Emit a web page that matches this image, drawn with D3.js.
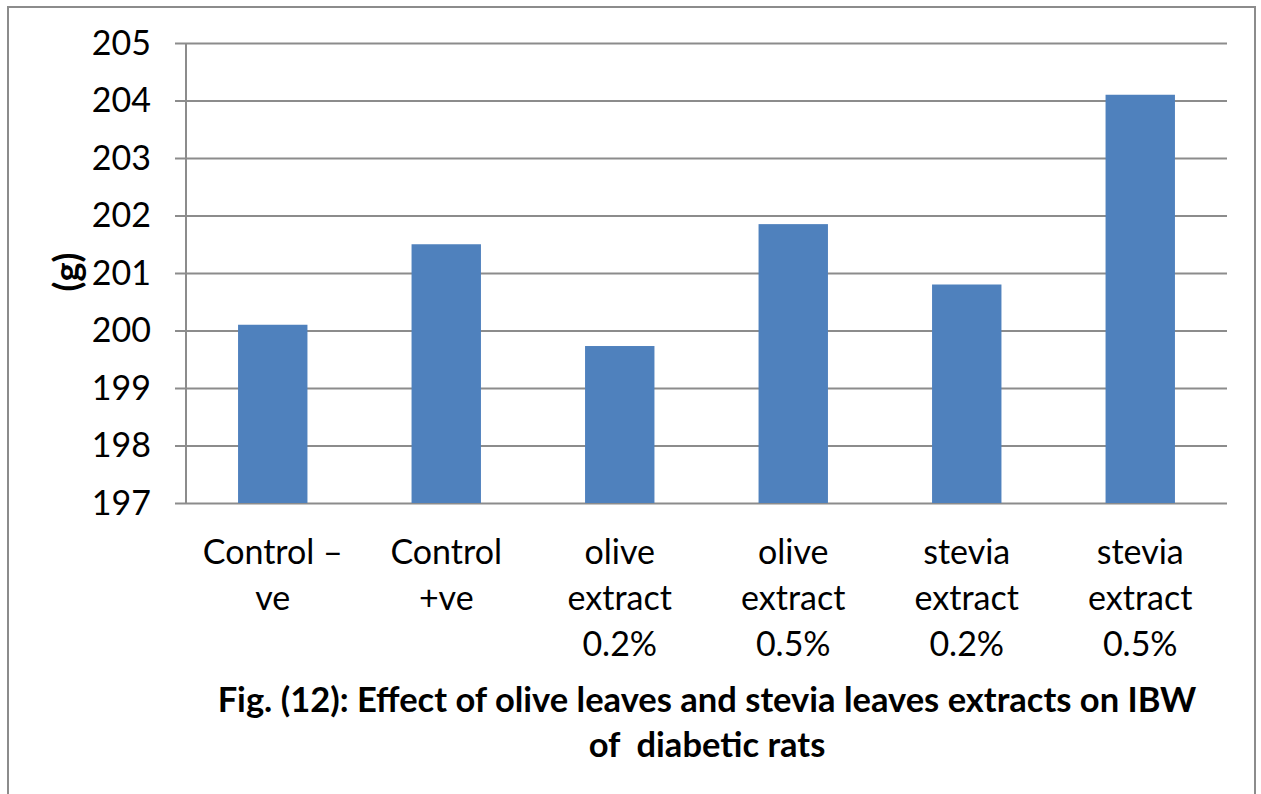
<!DOCTYPE html>
<html>
<head>
<meta charset="utf-8">
<script src="https://cdn.jsdelivr.net/npm/d3@7"></script>
<style>
  body { margin: 0; background: #fff; }
  text { font-family: Lato, "Open Sans", sans-serif; fill: #000; }
</style>
</head>
<body>
<div id="chart"></div>
<script>
const categories = [
  ["Control \u2013", "ve"],
  ["Control", "+ve"],
  ["olive", "extract", "0.2%"],
  ["olive", "extract", "0.5%"],
  ["stevia", "extract", "0.2%"],
  ["stevia", "extract", "0.5%"]
];
const values = [200.1, 201.5, 199.73, 201.85, 200.8, 204.1];
const yTicks = [197, 198, 199, 200, 201, 202, 203, 204, 205];
const yLabel = "(g)";
const titleLines = ["Fig. (12): Effect of olive leaves and stevia leaves extracts on IBW", "of  diabetic rats"];

const w = 1261;
const h = 794;
const plotLeft = 186, plotRight = 1227, plotTop = 43, plotBottom = 503;

const svg = d3.select("#chart")
              .append("svg")
              .attr("width", w)
              .attr("height", h);

// outer frame
svg.append("rect")
   .attr("x", 8).attr("y", 7)
   .attr("width", 1247).attr("height", 820)
   .attr("fill", "none")
   .attr("stroke", "#8c8c8c")
   .attr("stroke-width", 2);

const xScale = d3.scaleBand()
                 .domain(d3.range(categories.length))
                 .range([plotLeft, plotRight])
                 .paddingInner(0.6)
                 .paddingOuter(0.3);

const yScale = d3.scaleLinear()
                 .domain([197, 205])
                 .range([plotBottom, plotTop]);

// gridlines, with small ticks left of the axis
svg.append("g")
   .attr("transform", "translate(" + plotRight + ",0)")
   .call(d3.axisLeft(yScale).tickValues(yTicks).tickSize(plotRight - 175).tickFormat(""))
   .call(g => g.select(".domain").remove())
   .selectAll("line")
   .attr("stroke", "#8c8c8c")
   .attr("stroke-width", 2);

svg.append("g")
   .selectAll("text")
   .data(yTicks)
   .enter()
   .append("text")
   .attr("x", 151)
   .attr("y", d => yScale(d))
   .attr("dy", "0.35em")
   .attr("text-anchor", "end")
   .style("font-size", "34px")
   .text(d => d);

// y axis line
svg.append("line")
   .attr("x1", plotLeft).attr("x2", plotLeft)
   .attr("y1", plotTop).attr("y2", plotBottom)
   .attr("stroke", "#8c8c8c")
   .attr("stroke-width", 2);

// bars
svg.selectAll("rect.bar")
   .data(values)
   .enter()
   .append("rect")
   .attr("class", "bar")
   .attr("x", (d, i) => xScale(i))
   .attr("y", d => yScale(d))
   .attr("width", xScale.bandwidth())
   .attr("height", d => yScale(197) - yScale(d))
   .attr("fill", "#4f81bd");

// x labels
const xl = svg.append("g")
   .selectAll("text")
   .data(categories)
   .enter()
   .append("text")
   .attr("text-anchor", "middle")
   .style("font-size", "34px")
   .attr("transform", (d, i) => "translate(" + (xScale(i) + xScale.bandwidth() / 2) + ",564)");
xl.selectAll("tspan")
  .data(d => d)
  .enter()
  .append("tspan")
  .attr("x", 0)
  .attr("y", (d, i) => i * 46)
  .text(d => d);

// y label
svg.append("text")
   .attr("transform", "translate(67,272) rotate(-90)")
   .attr("text-anchor", "middle")
   .attr("dy", "0.35em")
   .style("font-size", "36px")
   .style("font-weight", "bold")
   .text(yLabel);

// title
svg.append("g")
   .selectAll("text")
   .data(titleLines)
   .enter()
   .append("text")
   .attr("x", 707)
   .attr("y", (d, i) => 712 + i * 45)
   .attr("text-anchor", "middle")
   .attr("xml:space", "preserve")
   .style("white-space", "pre")
   .style("font-size", "34.5px")
   .style("font-weight", "bold")
   .text(d => d);
</script>
</body>
</html>
